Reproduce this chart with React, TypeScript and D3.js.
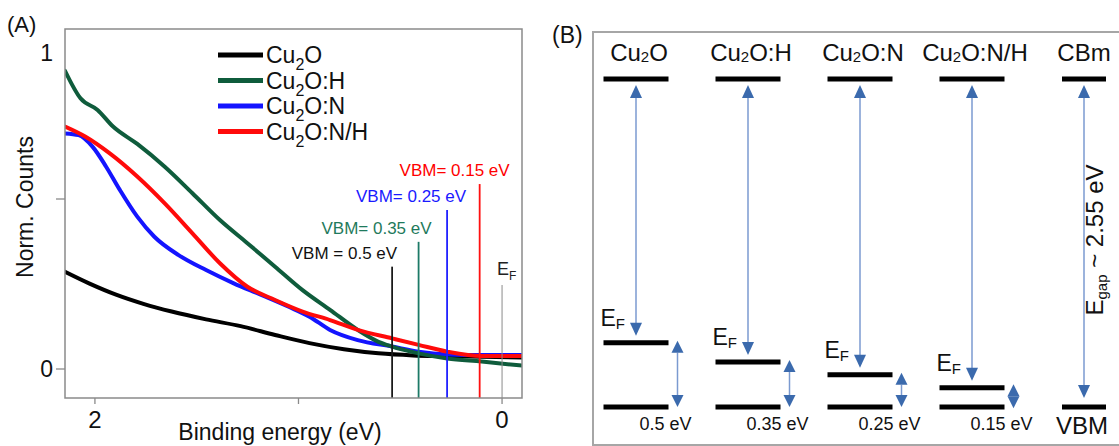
import React from "react";
import { scaleLinear, scalePoint, line, curveMonotoneX } from "d3";

// ---------- (A) valence band spectra: binding energy (eV) vs norm. counts
const cu2oE = [2.147, 2.029, 1.893, 1.758, 1.623, 1.454, 1.284, 1.115, 0.946, 0.777, 0.607, 0.438, 0.269, 0.1, -0.098];
const cu2oV = [0.286, 0.252, 0.218, 0.191, 0.169, 0.146, 0.126, 0.1, 0.076, 0.058, 0.046, 0.04, 0.038, 0.036, 0.034];

const cu2oHE = [2.147, 2.071, 1.987, 1.911, 1.792, 1.657, 1.521, 1.386, 1.251, 1.115, 0.98, 0.845, 0.709, 0.607, 0.54, 0.41, 0.269, 0.1, -0.098];
const cu2oHV = [0.877, 0.796, 0.762, 0.713, 0.662, 0.595, 0.517, 0.438, 0.37, 0.301, 0.232, 0.174, 0.115, 0.08, 0.066, 0.046, 0.031, 0.022, 0.01];

const cu2oNE = [2.147, 2.08, 2.012, 1.945, 1.877, 1.792, 1.708, 1.589, 1.454, 1.318, 1.183, 1.048, 0.946, 0.845, 0.709, 0.54, 0.41, 0.269, 0.1, -0.098];
const cu2oNV = [0.693, 0.688, 0.654, 0.595, 0.526, 0.448, 0.389, 0.335, 0.291, 0.252, 0.218, 0.183, 0.154, 0.115, 0.085, 0.066, 0.051, 0.043, 0.041, 0.041];

const cu2oNHE = [2.147, 2.046, 1.927, 1.792, 1.657, 1.521, 1.386, 1.251, 1.115, 0.98, 0.845, 0.709, 0.54, 0.41, 0.269, 0.1, -0.098];
const cu2oNHV = [0.713, 0.683, 0.634, 0.566, 0.487, 0.399, 0.311, 0.242, 0.203, 0.169, 0.144, 0.115, 0.09, 0.071, 0.051, 0.038, 0.038];

const seriesNames = ["Cu2O", "Cu2O:H", "Cu2O:N", "Cu2O:N/H"];

// VBM markers: labelled value, where the marker sits, and how high it reaches
const vbmValues = [0.5, 0.35, 0.25, 0.15];
const vbmLineE = [0.54, 0.41, 0.27, 0.11];
const vbmLineTop = [0.301, 0.374, 0.468, 0.544];
const efLineTop = 0.247;

const xTicks = [2, 1, 0];
const xTickLabels = ["2", "", "0"];
const yTicks = [0, 0.5];

// ---------- (B) band diagram
const bandNames = ["Cu2O", "Cu2O:H", "Cu2O:N", "Cu2O:N/H", "CBm"];
const fermiAboveVbm = [0.5, 0.35, 0.25, 0.15];
const gapLabels = ["0.5 eV", "0.35 eV", "0.25 eV", "0.15 eV"];
const bandGap = 2.55;

const colors: Record<string, string> = {
  "Cu2O": "#000000",
  "Cu2O:H": "#0f5c3c",
  "Cu2O:N": "#1414ff",
  "Cu2O:N/H": "#ff0a0a",
};
const vbmColors = ["#1a1a1a", "#1d7a67", "#2020ff", "#ff1010"];
const vbmLabelColors = ["#111111", "#1f7a5c", "#1a1aff", "#ff0000"];

const FONT = "'Liberation Sans', Arial, Helvetica, sans-serif";
const ARROW = "#7b9ad0";
const HEAD = "#3b6aad";

function Chem(props: {
  text: string; x: number; y: number; size: number; subSize: number;
  shift: number; anchor?: string; fill?: string;
}) {
  const { text, x, y, size, subSize, shift, anchor = "start", fill = "#111" } = props;
  const m = text.match(/^Cu2(.*)$/);
  if (!m) {
    return <text x={x} y={y} fontSize={size} textAnchor={anchor} fill={fill}>{text}</text>;
  }
  return (
    <text x={x} y={y} fontSize={size} textAnchor={anchor} fill={fill}>
      Cu<tspan fontSize={subSize} dy={shift}>2</tspan>
      <tspan dy={-shift}>{m[1]}</tspan>
    </text>
  );
}

// triangle head, dir = 1 points down, -1 points up
function head(x: number, tip: number, dir: number, len = 13, w = 6) {
  const b = tip - dir * len;
  return `${x},${tip} ${x - w},${b} ${x + w},${b}`;
}

function DoubleArrow({ x, y1, y2 }: { x: number; y1: number; y2: number }) {
  const len = 12;
  let top = y1;
  let bot = y2;
  if (bot - top < 2 * len) {
    const mid = (top + bot) / 2;
    top = mid - len;
    bot = mid + len;
  }
  return (
    <g>
      <line x1={x} x2={x} y1={top + len} y2={bot - len} stroke={ARROW} strokeWidth={1.5} />
      <polygon points={head(x, top, -1, len, 6)} fill={HEAD} />
      <polygon points={head(x, bot, 1, len, 6)} fill={HEAD} />
    </g>
  );
}

function PanelA() {
  const x = scaleLinear().domain([2.147, -0.098]).range([65, 522]);
  const y = scaleLinear().domain([0, 1]).range([369, 29]);
  const [x0, x1] = x.range();
  const yBottom = 398;
  const yTop = 29;

  const series = [
    { name: "Cu2O", e: cu2oE, v: cu2oV },
    { name: "Cu2O:N", e: cu2oNE, v: cu2oNV },
    { name: "Cu2O:H", e: cu2oHE, v: cu2oHV },
    { name: "Cu2O:N/H", e: cu2oNHE, v: cu2oNHV },
  ];

  const labelDx = [5, 13, 19, 30];

  return (
    <g fontFamily={FONT}>
      <text x={7} y={32} fontSize={22} fill="#111">(A)</text>
      <defs>
        <clipPath id="clipA">
          <rect x={x0} y={yTop} width={x1 - x0} height={yBottom - yTop} />
        </clipPath>
      </defs>

      {/* curves */}
      <g clipPath="url(#clipA)">
        {series.map((s) => {
          const path = line<number>()
            .x((_, i) => x(s.e[i]))
            .y((_, i) => y(s.v[i]))
            .curve(curveMonotoneX)(s.v);
          return (
            <path key={s.name} d={path ?? ""} fill="none" stroke={colors[s.name]}
              strokeWidth={4} strokeLinejoin="round" strokeLinecap="round" />
          );
        })}
      </g>

      {/* VBM markers */}
      {vbmLineE.map((e, i) => (
        <g key={i}>
          <line x1={x(e)} x2={x(e)} y1={y(vbmLineTop[i])} y2={yBottom}
            stroke={vbmColors[i]} strokeWidth={1.8} />
          <text x={x(e) + labelDx[i]} y={y(vbmLineTop[i]) - 8} textAnchor="end"
            fontSize={17} fill={vbmLabelColors[i]}>
            {`VBM${i === 0 ? " = " : "= "}${vbmValues[i]} eV`}
          </text>
        </g>
      ))}
      <line x1={x(0)} x2={x(0)} y1={y(efLineTop)} y2={yBottom} stroke="#8a8a8a" strokeWidth={1} />
      <text x={x(0) - 5} y={y(efLineTop) - 10} fontSize={18} fill="#222">
        E<tspan fontSize={12} dy={5}>F</tspan>
      </text>

      {/* frame */}
      <rect x={x0} y={yTop} width={x1 - x0} height={yBottom - yTop} fill="none"
        stroke="#8a8a8a" strokeWidth={1.5} />
      {xTicks.map((t, i) => (
        <g key={t}>
          <line x1={x(t)} x2={x(t)} y1={yBottom} y2={yBottom + 6} stroke="#8a8a8a" strokeWidth={1.3} />
          <text x={x(t)} y={428} textAnchor="middle" fontSize={24} fill="#111">{xTickLabels[i]}</text>
        </g>
      ))}
      {yTicks.map((t) => (
        <line key={t} x1={x0 - 9} x2={x0} y1={y(t)} y2={y(t)} stroke="#8a8a8a" strokeWidth={1.3} />
      ))}
      <text x={53} y={y(0) + 8} textAnchor="end" fontSize={23} fill="#111">0</text>
      <text x={53} y={y(0.93) + 8} textAnchor="end" fontSize={23} fill="#111">1</text>

      <text x={280} y={440} textAnchor="middle" fontSize={23} fill="#111">Binding energy (eV)</text>
      <text transform="translate(33,207) rotate(-90)" textAnchor="middle" fontSize={23} fill="#111">
        Norm. Counts
      </text>

      {/* legend */}
      {seriesNames.map((n, i) => {
        const ly = 55 + i * 25.5;
        return (
          <g key={n}>
            <line x1={218} x2={263} y1={ly} y2={ly} stroke={colors[n]} strokeWidth={5} />
            <Chem text={n} x={266} y={ly + 8} size={23} subSize={16} shift={7} />
          </g>
        );
      })}
    </g>
  );
}

function PanelB() {
  const yB = scaleLinear().domain([0, bandGap]).range([407, 79]);
  const xB = scalePoint<string>().domain(bandNames).range([636, 1084]);
  const half = 32.5;
  const cbY = yB(bandGap);
  const vbY = yB(0);

  return (
    <g fontFamily={FONT}>
      <text x={552} y={43} fontSize={23} fill="#111">(B)</text>
      <rect x={593} y={32} width={560} height={413} fill="none" stroke="#a6a6a6" strokeWidth={2} />

      {bandNames.slice(0, 4).map((n, i) => {
        const cx = xB(n) as number;
        const ef = yB(fermiAboveVbm[i]);
        return (
          <g key={n}>
            <Chem text={n} x={cx + 3} y={61} size={24} subSize={15} shift={1} anchor="middle" />
            <line x1={cx - half} x2={cx + half} y1={cbY} y2={cbY} stroke="#000" strokeWidth={5} />
            <line x1={cx - half} x2={cx + half} y1={ef} y2={ef} stroke="#000" strokeWidth={5} />
            <line x1={cx - half} x2={cx + half} y1={vbY} y2={vbY} stroke="#000" strokeWidth={5} />

            <line x1={cx} x2={cx} y1={cbY + 18} y2={ef - 18} stroke={ARROW} strokeWidth={1.5} />
            <polygon points={head(cx, cbY + 6, -1)} fill={HEAD} />
            <polygon points={head(cx, ef - 7, 1)} fill={HEAD} />

            <text x={cx - half - 3} y={ef - 17} fontSize={23} fill="#111">
              E<tspan fontSize={15} dy={3}>F</tspan>
            </text>

            <DoubleArrow x={cx + half + 9} y1={ef - 2} y2={vbY} />
            <text x={cx + half - 3} y={430} textAnchor="middle" fontSize={18} fill="#111">
              {gapLabels[i]}
            </text>
          </g>
        );
      })}

      {(() => {
        const cx = xB("CBm") as number;
        const h2 = 22;
        return (
          <g>
            <text x={cx} y={61} textAnchor="middle" fontSize={24} fill="#111">CBm</text>
            <line x1={cx - h2} x2={cx + h2} y1={cbY} y2={cbY} stroke="#000" strokeWidth={5} />
            <line x1={cx - h2} x2={cx + h2} y1={vbY} y2={vbY} stroke="#000" strokeWidth={5} />
            <line x1={cx} x2={cx} y1={cbY + 18} y2={vbY - 20} stroke={ARROW} strokeWidth={1.5} />
            <polygon points={head(cx, cbY + 6, -1)} fill={HEAD} />
            <polygon points={head(cx, vbY - 9, 1)} fill={HEAD} />
            <text x={cx - 2} y={434} textAnchor="middle" fontSize={24} fill="#111">VBM</text>
            <text transform={`translate(${cx + 19},${yB(bandGap / 2) - 3}) rotate(-90)`}
              textAnchor="middle" fontSize={24} fill="#111">
              E<tspan fontSize={15} dy={4}>gap</tspan>
              <tspan dy={-4}>{` ~  ${bandGap} eV`}</tspan>
            </text>
          </g>
        );
      })()}
    </g>
  );
}

export default function App() {
  return (
    <svg width={1119} height={446} style={{ position: "absolute", left: 0, top: 0, background: "#fff" }}>
      <rect width={1119} height={446} fill="#fff" />
      <PanelA />
      <PanelB />
    </svg>
  );
}
